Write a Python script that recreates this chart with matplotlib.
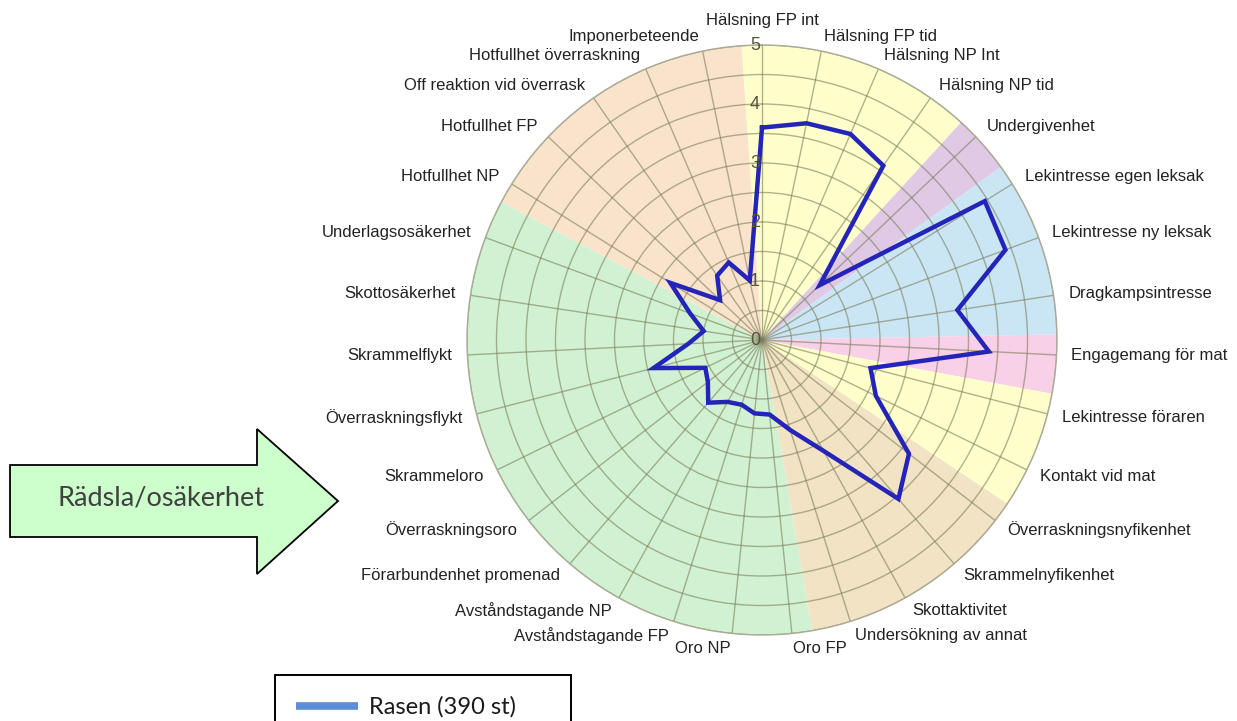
import numpy as np
import matplotlib.pyplot as plt
from matplotlib.patches import Polygon
from matplotlib.lines import Line2D

# categories clockwise from the top
categories = [
    'Hälsning FP int', 'Hälsning FP tid', 'Hälsning NP Int', 'Hälsning NP tid',
    'Undergivenhet', 'Lekintresse egen leksak', 'Lekintresse ny leksak',
    'Dragkampsintresse', 'Engagemang för mat', 'Lekintresse föraren',
    'Kontakt vid mat', 'Överraskningsnyfikenhet', 'Skrammelnyfikenhet',
    'Skottaktivitet', 'Undersökning av annat', 'Oro FP', 'Oro NP',
    'Avståndstagande FP', 'Avståndstagande NP', 'Förarbundenhet promenad',
    'Överraskningsoro', 'Skrammeloro', 'Överraskningsflykt', 'Skrammelflykt',
    'Skottosäkerhet', 'Underlagsosäkerhet', 'Hotfullhet NP', 'Hotfullhet FP',
    'Off reaktion vid överrask', 'Hotfullhet överraskning', 'Imponerbeteende',
]
rasen = [
    3.6, 3.75, 3.8, 3.6, 1.35, 4.45, 4.4, 3.35, 3.85, 1.9,
    2.15, 3.15, 3.55, 2.15, 1.6, 1.27, 1.25, 1.15, 1.2, 1.4,
    1.16, 1.07, 1.9, 1.25, 1.0, 1.3, 1.83, 0.98, 1.33, 1.43, 1.03,
]
series_label = 'Rasen (390 st)'
radial_ticks = [0, 1, 2, 3, 4, 5]
arrow_text = 'Rädsla/osäkerhet'

# background groups: (first category, last category, colour)
sector_groups = [
    (0, 3, '#ffffcc'),
    (4, 4, '#dfc9e5'),
    (5, 7, '#cae6f5'),
    (8, 8, '#f8d0e7'),
    (9, 10, '#ffffcc'),
    (11, 14, '#f1e3c3'),
    (15, 25, '#d1f2d2'),
    (26, 30, '#f9e3cb'),
]

W, H = 1237, 721
fig = plt.figure(figsize=(W / 100, H / 100), dpi=100)

# polar chart: centre (762, 340) px, radius 295 px
cx, cy, rad = 762, 340, 295
ax = fig.add_axes([(cx - rad) / W, 1 - (cy + rad) / H, 2 * rad / W, 2 * rad / H],
                  projection='polar')
ax.set_theta_zero_location('N')
ax.set_theta_direction(-1)

n = len(categories)
theta = np.arange(n) * 2 * np.pi / n
step = 2 * np.pi / n
shift = np.deg2rad(1.8)

for first, last, colour in sector_groups:
    start = theta[first] - step / 2 + shift
    end = theta[last] + step / 2 + shift
    ax.bar((start + end) / 2, 5, width=end - start, bottom=0,
           color=colour, linewidth=0, zorder=0)

ax.set_ylim(0, 5)
ax.set_yticks(np.arange(0.5, 5.01, 0.5))
ax.set_yticklabels([])
ax.set_xticks(theta)
ax.set_xticklabels([])
ax.grid(True, color='#7e7e5c', alpha=0.6, linewidth=1.0)
ax.spines['polar'].set_color('#aaaa96')
ax.spines['polar'].set_linewidth(1.0)
ax.patch.set_alpha(0)

ax.plot(np.append(theta, theta[0]), rasen + rasen[:1], color='#2424b8',
        linewidth=3.2, solid_joinstyle='miter', zorder=3)

for v in radial_ticks:
    ax.annotate(str(v), xy=(0, v), xytext=(-1.5, 0), textcoords='offset points',
                ha='right', va='center', fontsize=13, color='#55553f',
                family='Liberation Sans', zorder=4)

for i, label in enumerate(categories):
    deg = np.rad2deg(theta[i])
    if i == 0:
        ha, r = 'center', 5.42
    elif deg < 180:
        ha, r = 'left', 5.25
    else:
        ha, r = 'right', 5.25
    ax.text(theta[i], r, label, ha=ha, va='center', fontsize=12,
            family='Liberation Sans', color='#222222')

# overlay in pixel coordinates for the arrow
ov = fig.add_axes([0, 0, 1, 1])
ov.set_xlim(0, W)
ov.set_ylim(H, 0)
ov.axis('off')

arrow_outline = [(10, 465), (257, 465), (257, 429), (338, 501),
                 (257, 574), (257, 537), (10, 537)]
ov.add_patch(Polygon(arrow_outline, closed=True, facecolor='#ccffcc',
                     edgecolor='black', linewidth=1.3))
ov.text(161, 498, arrow_text, ha='center', va='center', fontsize=19.5,
        family='Lato', color='#404040')

handle = Line2D([], [], color='#5b8ed6', linewidth=5.5, solid_capstyle='butt')
leg = fig.legend(handles=[handle], labels=[series_label], loc='upper left',
                 bbox_to_anchor=(275 / W, 0, 296 / W, 1 - 675 / H), mode='expand',
                 borderaxespad=0, fancybox=False, edgecolor='black', framealpha=1,
                 prop={'family': 'Lato', 'size': 17}, handlelength=2.6,
                 handletextpad=0.5, borderpad=0.9)
leg.get_frame().set_linewidth(1.4)
for t in leg.get_texts():
    t.set_color('#1a1a1a')

fig.savefig('out.png', dpi=100)
